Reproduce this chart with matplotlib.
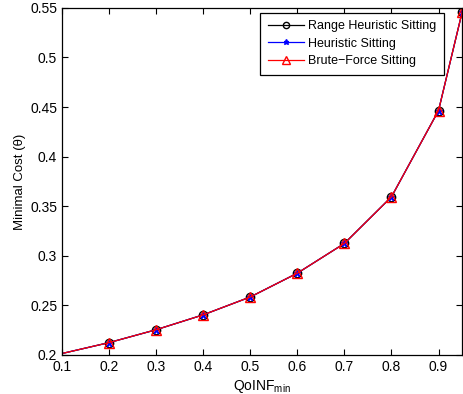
import numpy as np
import matplotlib.pyplot as plt

plt.rcParams['font.family'] = ['Liberation Sans', 'DejaVu Sans']
plt.rcParams['mathtext.fontset'] = 'custom'
plt.rcParams['mathtext.rm'] = 'Liberation Sans'
plt.rcParams['mathtext.it'] = 'Liberation Sans'

# minimal cost vs QoINF threshold
qoinf = [0.1, 0.2, 0.3, 0.4, 0.5, 0.6, 0.7, 0.8, 0.9, 0.95]
range_heur = [0.2015, 0.2125, 0.2255, 0.2405, 0.2585, 0.2825, 0.3125, 0.3595, 0.4465, 0.5455]
heur = [0.2015, 0.2125, 0.2255, 0.2405, 0.2585, 0.2825, 0.3125, 0.3595, 0.4465, 0.5455]
brute = [0.2015, 0.2125, 0.2255, 0.2405, 0.2585, 0.2825, 0.3125, 0.3595, 0.4465, 0.5455]

fig = plt.figure(figsize=(4.63, 3.94), dpi=100)
ax = fig.add_axes([0.134, 0.099, 0.864, 0.881])

mk = slice(1, None)
ax.plot(qoinf, range_heur, 'k-o', mfc='none', ms=6, lw=0.9, markevery=mk, label='Range Heuristic Sitting')
ax.plot(qoinf, heur, 'b-*', ms=5, lw=0.9, markevery=mk, label='Heuristic Sitting')
ax.plot(qoinf, brute, 'r-^', mfc='none', ms=7, lw=0.9, markevery=mk, label='Brute\u2212Force Sitting')

ax.set_xlim(0.1, 0.95)
ax.set_ylim(0.2, 0.55)
ax.set_xticks([0.1, 0.2, 0.3, 0.4, 0.5, 0.6, 0.7, 0.8, 0.9])
ax.set_xticklabels(['0.1', '0.2', '0.3', '0.4', '0.5', '0.6', '0.7', '0.8', '0.9'])
ax.set_yticks([0.2, 0.25, 0.3, 0.35, 0.4, 0.45, 0.5, 0.55])
ax.set_yticklabels(['0.2', '0.25', '0.3', '0.35', '0.4', '0.45', '0.5', '0.55'])
ax.tick_params(direction='in', top=True, right=True, labelsize=10, length=4, width=0.8)
for s in ax.spines.values():
    s.set_linewidth(0.9)

ax.set_xlabel('QoINF$_{\\mathrm{min}}$', fontsize=10, labelpad=3)
ax.set_ylabel('Minimal Cost (\u03b8)', fontsize=9.5, labelpad=3)

leg = ax.legend(loc='upper right', bbox_to_anchor=(0.955, 0.986), borderaxespad=0,
                fontsize=9, fancybox=False, edgecolor='k', framealpha=1, markerscale=0.75,
                handlelength=2.9, borderpad=0.6, labelspacing=0.45, handletextpad=0.35)
leg.get_frame().set_linewidth(0.9)

fig.savefig('out.png', dpi=100)
